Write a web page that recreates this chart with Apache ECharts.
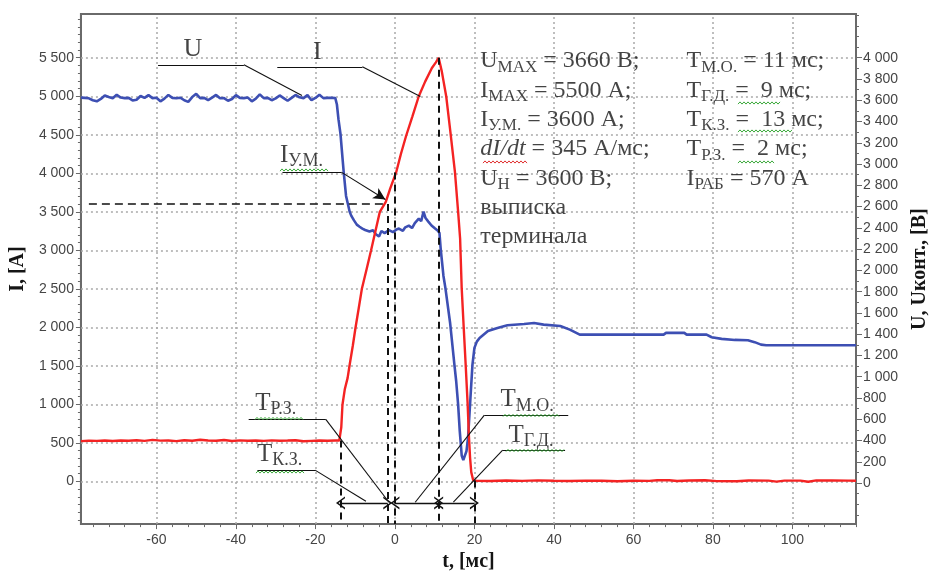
<!DOCTYPE html>
<html>
<head>
<meta charset="utf-8">
<script src="https://cdn.jsdelivr.net/npm/echarts@6/dist/echarts.min.js"></script>
<style>
  html, body { margin: 0; padding: 0; background: #fff; }
  #chart { width: 938px; height: 577px; }
</style>
</head>
<body>
<div id="chart"></div>
<script>
// ---- Axis ticks ----
const timeTicks = [-60, -40, -20, 0, 20, 40, 60, 80, 100];
const currentTicks = [0, 500, 1000, 1500, 2000, 2500, 3000, 3500, 4000, 4500, 5000, 5500];
const voltageTicks = [0, 200, 400, 600, 800, 1000, 1200, 1400, 1600, 1800, 2000,
  2200, 2400, 2600, 2800, 3000, 3200, 3400, 3600, 3800, 4000];

// ---- Axis ranges ----
const timeRange = [-79, 116];
const currentRange = [-555, 6068];
const voltageRange = [-386, 4411];

// ---- Current I, A : [t (ms), I (A)] ----
const current = [
  [-79, 522], [-77, 528], [-75, 526], [-73, 531], [-71, 524], [-69, 530], [-67, 527],
  [-65, 533], [-63, 526], [-61, 538], [-59, 529], [-57, 531], [-55, 522], [-53, 534],
  [-51, 527], [-49, 541], [-47, 530], [-45, 527], [-43, 537], [-41, 524], [-39, 532],
  [-37, 528], [-35, 530], [-33, 525], [-31, 532], [-29, 527], [-27, 530], [-25, 534],
  [-23, 521], [-21, 526], [-19, 531], [-17, 528], [-15, 530], [-14.0, 531],
  [-13.7, 540], [-13.5, 700], [-13.2, 994], [-12.6, 1200], [-11.9, 1343], [-11.4, 1510],
  [-10.6, 1760], [-9.9, 2001], [-9.1, 2250], [-8.3, 2505], [-7.1, 2760], [-6.0, 3000],
  [-4.9, 3250], [-3.8, 3499], [-2.3, 3628], [-1.2, 3800], [0.3, 4011], [1.5, 4250],
  [2.8, 4484], [4.4, 4740], [6.0, 5000], [7.6, 5190], [9.3, 5367], [10.3, 5440],
  [11.0, 5500], [11.8, 5320], [12.9, 5000], [13.9, 4560], [15.1, 4015], [15.9, 3499],
  [16.4, 3150], [16.8, 2505], [17.3, 2001], [17.8, 1510], [18.3, 994], [18.6, 600],
  [18.9, 310], [19.2, 120], [19.7, 12],
  [20.5, 8], [24, 5], [28, 11], [32, 6], [36, 13], [40, 8], [44, 4], [48, 10], [52, 7],
  [56, 2], [60, 8], [64, 6], [66, 15], [69, 14], [71, 4], [74, 12], [78, 14], [81, 3],
  [86, 2], [89, 12], [94, 10], [96, -3], [98, 10], [102, 10], [104, -5], [106, 12],
  [110, 12], [114, 10], [116, 8]
];

// ---- Contact-line voltage U, V : [t (ms), U (V)] ----
const voltage = [
  [-79, 3625], [-78, 3622], [-77, 3618], [-76, 3600], [-75, 3590], [-74, 3612], [-73, 3645],
  [-72, 3630], [-71, 3618], [-70, 3652], [-69, 3625], [-68, 3620], [-67, 3622], [-66, 3598],
  [-65, 3605], [-64, 3640], [-63, 3622], [-62, 3648], [-61, 3620], [-60, 3623], [-59, 3590],
  [-58, 3615], [-57, 3650], [-56, 3622], [-55, 3618], [-54, 3624], [-53, 3600], [-52, 3585],
  [-51, 3630], [-50, 3660], [-49, 3620], [-48, 3622], [-47, 3602], [-46, 3625], [-45, 3650],
  [-44, 3618], [-43, 3620], [-42, 3595], [-41, 3612], [-40, 3648], [-39, 3622], [-38, 3620],
  [-37, 3625], [-36, 3590], [-35, 3615], [-34, 3655], [-33, 3620], [-32, 3622], [-31, 3600],
  [-30, 3618], [-29, 3645], [-28, 3620], [-27, 3595], [-26, 3622], [-25, 3650], [-24, 3628],
  [-23, 3620], [-22, 3648], [-21, 3600], [-20, 3622], [-19, 3652], [-18, 3620], [-17, 3622],
  [-16, 3624], [-15, 3620],
  [-14.6, 3560], [-14.2, 3420], [-13.7, 3284], [-13.2, 3060], [-12.9, 2928], [-12.3, 2700],
  [-11.4, 2553], [-11.0, 2515], [-10.3, 2470], [-9.6, 2430], [-8.9, 2410], [-8.2, 2393],
  [-7.5, 2380], [-6.4, 2365], [-5.5, 2378], [-4.8, 2340], [-4.0, 2318], [-3.4, 2370],
  [-2.6, 2350], [-1.5, 2378], [-0.5, 2360], [0.4, 2385], [1.0, 2393], [2.0, 2372],
  [2.6, 2405], [3.5, 2421], [4.3, 2398], [5.0, 2445], [6.0, 2487], [6.6, 2462], [7.2, 2553],
  [7.7, 2492], [8.4, 2459], [9.2, 2422], [10.1, 2393], [10.8, 2372], [11.2, 2352],
  [11.5, 2206], [12.2, 1950], [12.7, 1833], [13.9, 1500], [15.0, 1100], [15.4, 962],
  [15.9, 737], [16.3, 494], [16.8, 259], [17.2, 215], [17.6, 205], [18.0, 300], [18.4, 428],
  [19.0, 803], [19.5, 1112], [20.0, 1271], [20.6, 1330], [21.3, 1365], [23.4, 1431],
  [25.8, 1459], [28.3, 1484], [32.5, 1496], [35, 1505], [37.4, 1490], [41.6, 1477],
  [44, 1443], [46.5, 1396], [67.6, 1396], [68.2, 1412], [72.8, 1412], [73.4, 1396],
  [78.4, 1396], [79.7, 1371], [82.2, 1356], [85.5, 1346], [88.8, 1343], [90.5, 1325],
  [92.1, 1302], [93.4, 1296], [116, 1296]
];

// ---- Event times (ms) and the current level at each event (A) ----
const eventTimes = [-13.7, -1.8, 0, 11, 20];
const eventCurrent = [530, 3600, 4011, 5500, 10];
const surgeCurrent = 3600;   // Iу.м.

// ---- Styling ----
const SERIF = '"Liberation Serif", "Times New Roman", serif';
const SANS = '"Liberation Sans", Arial, sans-serif';
const INK = '#151515';
const AXIS = '#6a6a6a';
const RED = '#f42323';
const BLUE = '#3d4fb3';

const fmt = v => {
  const a = Math.abs(v);
  const s = a >= 1000 ? Math.floor(a / 1000) + ' ' + String(a % 1000).padStart(3, '0') : String(a);
  return (v < 0 ? '-' : '') + s;
};

const range = (a, b, step) => { const r = []; for (let v = a; v <= b + 1e-9; v += step) r.push(v); return r; };
const minorTime = range(-76, 116, 4);
const minorCurrent = range(-500, 6000, 100);
const minorVoltage = range(-300, 4400, 100);

const tickLabel = { color: '#454545', fontFamily: SANS, fontSize: 14 };
const axisName = { color: INK, fontFamily: SERIF, fontSize: 20, fontWeight: 'bold' };

const RICH = {
  b: { fontFamily: SERIF, fontSize: 24, color: INK, lineHeight: 29.3 },
  s: { fontFamily: SERIF, fontSize: 17, color: INK, lineHeight: 20, verticalAlign: 'bottom' },
  i: { fontFamily: SERIF, fontSize: 24, color: INK, fontStyle: 'italic', lineHeight: 29.3 },
  L: { fontFamily: SERIF, fontSize: 26, color: INK, lineHeight: 30 },
  t: { fontFamily: SERIF, fontSize: 25, color: INK, lineHeight: 30 },
  ts: { fontFamily: SERIF, fontSize: 18, color: INK, lineHeight: 21, verticalAlign: 'bottom' }
};

// text placed at a point given in (t, I) units
function note(t, i, text, align, vAlign) {
  return {
    value: [t, i],
    label: {
      show: true, formatter: text, position: [0, 0],
      align: align || 'left', verticalAlign: vAlign || 'middle', rich: RICH
    }
  };
}

const paramsLeft = [
  '{b|U}{s|MAX}{b| = 3660 В;}',
  '{b|I}{s|MAX}{b| = 5500 А;}',
  '{b|I}{s|У.М.}{b| = 3600 А;}',
  '{i|dI/dt}{b| = 345 А/мс;}',
  '{b|U}{s|Н}{b| = 3600 В;}',
  '{b|выписка}',
  '{b|терминала}'
].join('\n');
const paramsRight = [
  '{b|T}{s|М.О.}{b| = 11 мс;}',
  '{b|T}{s|Г.Д.}{b| =  9 мс;}',
  '{b|T}{s|К.З.}{b| =  13 мс;}',
  '{b|T}{s|Р.З.}{b| =  2 мс;}',
  '{b|I}{s|РАБ}{b| = 570 А}'
].join('\n');

// ---- Guides: line segments in (t, I) units ----
const thin = { color: '#111', width: 1.1, type: 'solid' };
const dash = { color: '#111', width: 2, type: [7, 5] };
const CHEVRON = 'path://M0,10 L5,0 L10,10 L8.6,10 L5,2.8 L1.4,10 Z';
function seg(a, b, style, s1, s2, size) {
  return [
    { coord: a, lineStyle: style, symbol: s1 || 'none', symbolSize: size || 10 },
    { coord: b, symbol: s2 || 'none', symbolSize: size || 10 }
  ];
}
function leader(points, endSymbol) {
  const out = [];
  for (let k = 0; k < points.length - 1; k++) {
    const last = k === points.length - 2;
    out.push(seg(points[k], points[k + 1], thin, 'none', last && endSymbol ? endSymbol : 'none', [9, 12]));
  }
  return out;
}
const arrowLevel = -280;
const bottomLevel = currentRange[0];

const guides = [];
guides.push(seg([-77, surgeCurrent], [eventTimes[1], surgeCurrent], { color: '#111', width: 1.6, type: [8, 5] }));
eventTimes.forEach((t, k) => guides.push(seg([t, eventCurrent[k]], [t, bottomLevel], dash)));
[[0, 1], [2, 3], [3, 4]].forEach(([a, b]) =>
  guides.push(seg([eventTimes[a], arrowLevel], [eventTimes[b], arrowLevel], { color: '#111', width: 1.3, type: 'solid' }, CHEVRON, CHEVRON, [13, 9])));
guides.push(...leader([[-59.6, 5409], [-38.0, 5409], [-23.4, 5009]]));
guides.push(...leader([[-29.6, 5383], [-8.2, 5383], [6.4, 4996]]));
guides.push(...leader([[-28.3, 4015], [-13.5, 4015], [-2.4, 3660]], 'arrow'));
guides.push(...leader([[-36.8, 804], [-17.4, 804], [-1.5, -271]]));
guides.push(...leader([[-34.6, 146], [-20.1, 146], [-7.3, -258]]));
guides.push(...leader([[43.6, 861], [22.5, 861], [5.1, -271]]));
guides.push(...leader([[42.8, 404], [27.1, 404], [14.7, -271]]));

const gridLines = [];
timeTicks.forEach(t => gridLines.push({ xAxis: t }));
currentTicks.forEach(v => gridLines.push({ yAxis: v }));

// wavy proofing underline, pixel units
function squiggle(x1, x2, y, color) {
  const pts = [];
  let k = 0;
  for (let x = x1; x <= x2; x += 2, k++) pts.push([x, y + (k % 2 ? -1.1 : 1.1)]);
  return { type: 'polyline', silent: true, z: 50, shape: { points: pts }, style: { stroke: color, lineWidth: 1, fill: null } };
}
const GREEN = '#3caa3c';

const hiddenAxis = { axisLine: { show: false, onZero: false }, axisLabel: { show: false }, splitLine: { show: false } };

const option = {
  animation: false,
  backgroundColor: '#fff',
  grid: { left: 78, right: 75, top: 14, bottom: 50, show: true, borderColor: AXIS, borderWidth: 2, backgroundColor: 'transparent' },
  xAxis: [
    {
      type: 'value', min: timeRange[0], max: timeRange[1], position: 'bottom',
      axisLine: { show: true, onZero: false, lineStyle: { color: AXIS, width: 2 } },
      axisTick: { show: true, customValues: timeTicks, length: 5, lineStyle: { color: AXIS } },
      axisLabel: Object.assign({ customValues: timeTicks, margin: 9 }, tickLabel),
      splitLine: { show: false },
      name: 't, [мс]', nameLocation: 'middle', nameGap: 27, nameTextStyle: axisName
    },
    Object.assign({
      type: 'value', min: timeRange[0], max: timeRange[1], position: 'bottom', offset: 0,
      axisTick: { show: true, customValues: minorTime, length: 3, lineStyle: { color: AXIS } }
    }, hiddenAxis)
  ],
  yAxis: [
    {
      type: 'value', min: currentRange[0], max: currentRange[1], position: 'left',
      axisLine: { show: true, onZero: false, lineStyle: { color: AXIS, width: 2 } },
      axisTick: { show: true, customValues: currentTicks, length: 5, lineStyle: { color: AXIS } },
      axisLabel: Object.assign({ customValues: currentTicks, margin: 7, formatter: fmt }, tickLabel),
      splitLine: { show: false },
      name: 'I, [А]', nameLocation: 'middle', nameGap: 46, nameRotate: 90, nameTextStyle: axisName
    },
    {
      type: 'value', min: voltageRange[0], max: voltageRange[1], position: 'right',
      axisLine: { show: true, onZero: false, lineStyle: { color: AXIS, width: 2 } },
      axisTick: { show: true, customValues: voltageTicks, length: 6, lineStyle: { color: AXIS } },
      axisLabel: Object.assign({ customValues: voltageTicks, margin: 7, formatter: fmt }, tickLabel),
      splitLine: { show: false },
      name: 'U, Uконт., [В]', nameLocation: 'middle', nameGap: 54, nameRotate: 90, nameTextStyle: axisName
    },
    Object.assign({
      type: 'value', min: currentRange[0], max: currentRange[1], position: 'left', offset: 0,
      axisTick: { show: true, customValues: minorCurrent, length: 3, lineStyle: { color: AXIS } }
    }, hiddenAxis),
    Object.assign({
      type: 'value', min: voltageRange[0], max: voltageRange[1], position: 'right', offset: 0,
      axisTick: { show: true, customValues: minorVoltage, length: 3, lineStyle: { color: AXIS } }
    }, hiddenAxis)
  ],
  series: [
    {
      name: 'grid', type: 'line', xAxisIndex: 0, yAxisIndex: 0, data: [], silent: true,
      markLine: {
        silent: true, animation: false, symbol: ['none', 'none'], label: { show: false }, z: 1,
        lineStyle: { color: '#a9a9a9', width: 1.5, type: [2, 3] },
        data: gridLines
      }
    },
    {
      name: 'U', type: 'line', xAxisIndex: 0, yAxisIndex: 1, data: voltage,
      showSymbol: false, symbol: 'none', z: 3,
      lineStyle: { color: BLUE, width: 2.6 }
    },
    {
      name: 'I', type: 'line', xAxisIndex: 0, yAxisIndex: 0, data: current,
      showSymbol: false, symbol: 'none', z: 4,
      lineStyle: { color: RED, width: 2.4 }
    },
    {
      name: 'guides', type: 'line', xAxisIndex: 0, yAxisIndex: 0, data: [], silent: true, clip: false,
      markLine: {
        silent: true, animation: false, symbol: ['none', 'none'], label: { show: false }, z: 6,
        data: guides
      }
    },
    {
      name: 'notes', type: 'scatter', xAxisIndex: 0, yAxisIndex: 0, silent: true, z: 7,
      symbolSize: 1, itemStyle: { color: 'rgba(0,0,0,0)' },
      data: [
        note(-50.7, 5603, '{L|U}', 'center'),
        note(-19.4, 5570, '{L|I}', 'center'),
        note(-28.8, 4222, '{t|I}{ts|У.М.}'),
        note(-35.0, 1007, '{t|T}{ts|Р.З.}'),
        note(-34.6, 342, '{t|T}{ts|К.З.}'),
        note(26.7, 1052, '{t|T}{ts|М.О.}'),
        note(28.7, 594, '{t|T}{ts|Г.Д.}'),
        note(21.6, 5639, paramsLeft, 'left', 'top'),
        note(73.5, 5639, paramsRight, 'left', 'top')
      ]
    }
  ],
  graphic: [
    squiggle(280, 328, 170, GREEN),
    squiggle(255, 303, 418.5, GREEN),
    squiggle(256, 305, 472, GREEN),
    squiggle(503, 560, 415.5, GREEN),
    squiggle(506, 565, 450.5, GREEN),
    squiggle(738, 780, 103, GREEN),
    squiggle(738, 792, 131, GREEN),
    squiggle(738, 775, 162, GREEN),
    squiggle(483, 527, 162, '#e03030')
  ]
};

const chart = echarts.init(document.getElementById('chart'), null, { renderer: 'canvas' });
chart.setOption(option);
</script>
</body>
</html>
